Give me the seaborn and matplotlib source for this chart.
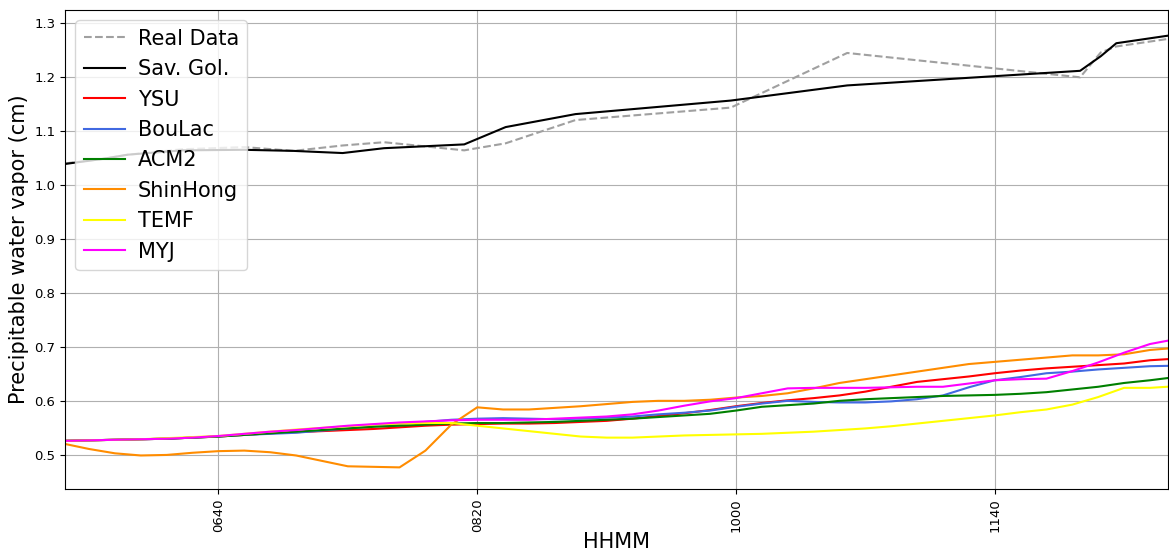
import numpy as np
import pandas as pd
import matplotlib
matplotlib.use("Agg")
import matplotlib.pyplot as plt
import seaborn as sns

# ---- data ----
obs_times = ["0541", "0555", "0605", "0626", "0650", "0709", "0728", "0744", "0815",
             "0831", "0858", "0958", "1043", "1213", "1221", "1227", "1247"]
real_data = [1.040, 1.048, 1.056, 1.066, 1.070, 1.063, 1.073, 1.079, 1.064,
             1.077, 1.120, 1.143, 1.244, 1.199, 1.245, 1.256, 1.270]
sav_gol = [1.039, 1.048, 1.056, 1.064, 1.065, 1.063, 1.059, 1.068, 1.075,
           1.107, 1.131, 1.156, 1.184, 1.211, 1.238, 1.262, 1.276]

model_times = ["0540", "0550", "0600", "0610", "0620", "0630", "0640", "0650", "0700", "0710",
               "0720", "0730", "0740", "0750", "0800", "0810", "0820", "0830", "0840", "0850",
               "0900", "0910", "0920", "0930", "0940", "0950", "1000", "1010", "1020", "1030",
               "1040", "1050", "1100", "1110", "1120", "1130", "1140", "1150", "1200", "1210",
               "1220", "1230", "1240", "1250"]
ysu = [0.527, 0.528, 0.529, 0.530, 0.531, 0.533, 0.535, 0.538, 0.541, 0.543,
       0.545, 0.547, 0.549, 0.552, 0.555, 0.557, 0.558, 0.559, 0.559, 0.560,
       0.562, 0.564, 0.568, 0.573, 0.578, 0.584, 0.591, 0.597, 0.602, 0.606,
       0.611, 0.618, 0.627, 0.636, 0.641, 0.646, 0.652, 0.657, 0.661, 0.664,
       0.667, 0.670, 0.676, 0.679]
boulac = [0.527, 0.528, 0.529, 0.530, 0.531, 0.533, 0.535, 0.538, 0.540, 0.542,
          0.546, 0.550, 0.554, 0.558, 0.562, 0.566, 0.568, 0.569, 0.568, 0.567,
          0.568, 0.570, 0.572, 0.576, 0.579, 0.583, 0.590, 0.596, 0.601, 0.599,
          0.598, 0.598, 0.600, 0.604, 0.611, 0.626, 0.639, 0.645, 0.652, 0.655,
          0.659, 0.662, 0.665, 0.666]
acm2 = [0.527, 0.528, 0.529, 0.530, 0.531, 0.533, 0.535, 0.538, 0.541, 0.544,
        0.547, 0.550, 0.553, 0.555, 0.557, 0.559, 0.560, 0.560, 0.561, 0.562,
        0.564, 0.566, 0.568, 0.571, 0.574, 0.577, 0.583, 0.590, 0.593, 0.596,
        0.601, 0.604, 0.606, 0.608, 0.610, 0.611, 0.612, 0.614, 0.617, 0.622,
        0.627, 0.634, 0.639, 0.645]
shinhong = [0.522, 0.512, 0.504, 0.500, 0.501, 0.505, 0.508, 0.509, 0.506, 0.500,
            0.490, 0.480, 0.479, 0.478, 0.509, 0.557, 0.589, 0.585, 0.585, 0.588,
            0.591, 0.595, 0.599, 0.601, 0.601, 0.603, 0.607, 0.610, 0.615, 0.624,
            0.634, 0.641, 0.648, 0.655, 0.662, 0.669, 0.673, 0.677, 0.681, 0.685,
            0.685, 0.687, 0.695, 0.699]
temf = [0.527, 0.528, 0.529, 0.530, 0.532, 0.534, 0.536, 0.540, 0.544, 0.548,
        0.551, 0.554, 0.557, 0.559, 0.560, 0.560, 0.555, 0.550, 0.545, 0.540,
        0.535, 0.533, 0.533, 0.535, 0.537, 0.538, 0.539, 0.540, 0.542, 0.544,
        0.547, 0.550, 0.554, 0.559, 0.564, 0.569, 0.574, 0.580, 0.585, 0.594,
        0.608, 0.625, 0.625, 0.628]
myj = [0.527, 0.528, 0.529, 0.530, 0.531, 0.533, 0.536, 0.540, 0.544, 0.547,
       0.551, 0.555, 0.558, 0.561, 0.563, 0.565, 0.566, 0.566, 0.566, 0.568,
       0.570, 0.572, 0.576, 0.583, 0.592, 0.600, 0.606, 0.615, 0.624, 0.625,
       0.625, 0.625, 0.626, 0.627, 0.627, 0.633, 0.639, 0.641, 0.642, 0.656,
       0.672, 0.690, 0.706, 0.715]

tick_labels = ["0640", "0820", "1000", "1140"]


def to_minutes(hhmm):
    return int(hhmm[:2]) * 60 + int(hhmm[2:])


obs_x = [to_minutes(t) for t in obs_times]
model_x = [to_minutes(t) for t in model_times]

fig, ax = plt.subplots(figsize=(11.69, 5.53), dpi=100)
fig.subplots_adjust(left=0.0556, right=0.9992, top=0.982, bottom=0.1157)

sns.lineplot(x=obs_x, y=real_data, ax=ax, color="#a0a0a0", linestyle="--",
             linewidth=1.5, label="Real Data")
sns.lineplot(x=obs_x, y=sav_gol, ax=ax, color="black", linewidth=1.5, label="Sav. Gol.")

series = [("YSU", ysu, "red"), ("BouLac", boulac, "royalblue"),
          ("ACM2", acm2, "green"), ("ShinHong", shinhong, "darkorange"),
          ("TEMF", temf, "yellow"), ("MYJ", myj, "magenta")]
for name, vals, col in series:
    sns.lineplot(x=model_x, y=vals, ax=ax, color=col, linewidth=1.5, label=name)

ax.set_xlim(340.7, 767.0)
ax.set_ylim(0.438, 1.3235)
ax.set_xticks([to_minutes(t) for t in tick_labels])
ax.set_xticklabels(tick_labels, rotation=90)
ax.set_yticks(np.arange(0.5, 1.31, 0.1))
ax.tick_params(labelsize=9.5)
ax.grid(True, color="#b0b0b0", linewidth=0.8)
ax.set_axisbelow(True)
ax.set_xlabel("HHMM", fontsize=15, labelpad=0)
ax.set_ylabel("Precipitable water vapor (cm)", fontsize=15)
ax.legend(loc="upper left", fontsize=15, handletextpad=0.6, borderaxespad=0.5)

fig.savefig("out.png", dpi=100)
